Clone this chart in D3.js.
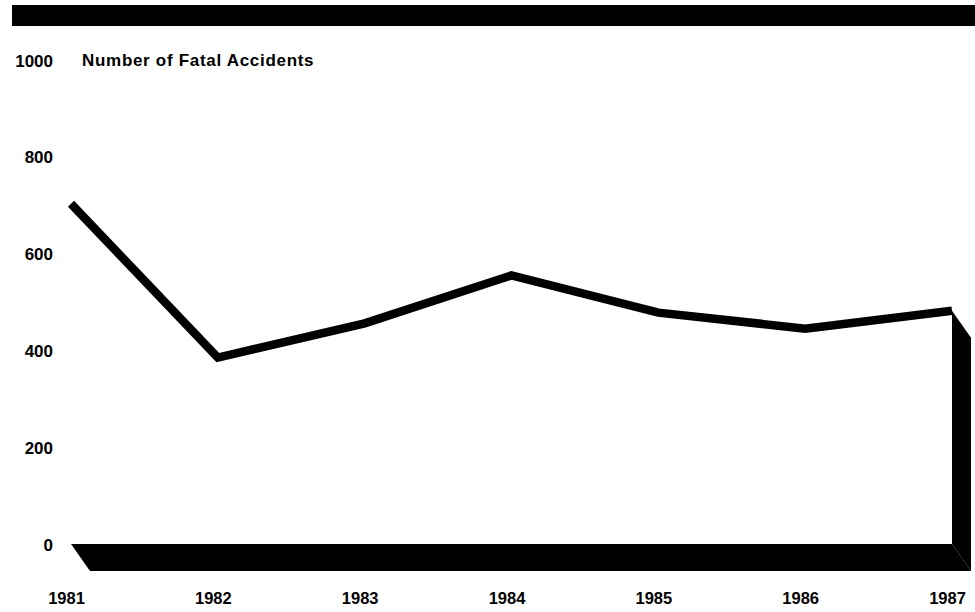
<!DOCTYPE html>
<html>
<head>
<meta charset="utf-8">
<script src="https://cdn.jsdelivr.net/npm/d3@7"></script>
<style>
  html, body { margin: 0; padding: 0; background: #fff; }
  svg { display: block; }
  text { font-family: "Liberation Sans", Arial, Helvetica, sans-serif; font-weight: bold; fill: #000; }
</style>
</head>
<body>
<svg id="chart" width="975" height="612"></svg>
<script>
// Fatal accidents per year
const years = [1981, 1982, 1983, 1984, 1985, 1986, 1987];
const accidents = [703, 385, 456, 555, 478, 445, 482];
const yTicks = [0, 200, 400, 600, 800, 1000];
const yTitle = "Number of Fatal Accidents";

const svg = d3.select("#chart");
const W = 975, H = 612;
const FONT = "'Liberation Sans', Arial, Helvetica, sans-serif";

const x = d3.scaleLinear().domain([1981, 1987]).range([71, 952]);
const y = d3.scaleLinear().domain([0, 1000]).range([544, 60]);

// depth offset of the extruded floor and side wall
const dx = 19, dy = 27;

// heavy rule across the top
svg.append("rect")
  .attr("x", 12).attr("y", 5)
  .attr("width", W - 12).attr("height", 21)
  .attr("fill", "#000");

// y axis labels (no axis line)
const yAxis = d3.axisLeft(y).tickValues(yTicks).tickSize(0).tickPadding(0)
  .tickFormat(d3.format("d"));
const gy = svg.append("g").attr("transform", "translate(53,0)").call(yAxis);
gy.select(".domain").remove();
gy.selectAll("text")
  .attr("font-size", 17)
  .attr("font-family", FONT)
  .attr("font-weight", "bold")
  .attr("fill", "#000")
  .attr("dy", "0.36em");

// axis title beside the top tick
svg.append("text")
  .attr("x", 82).attr("y", y(1000))
  .attr("dy", "0.36em")
  .attr("font-size", 17)
  .attr("letter-spacing", 0.7)
  .text(yTitle);

// x axis year labels
const xAxis = d3.axisBottom(x).tickValues(years).tickSize(0).tickPadding(0)
  .tickFormat(d3.format("d"));
const gx = svg.append("g").attr("transform", "translate(-5,592)").call(xAxis);
gx.select(".domain").remove();
gx.selectAll("text")
  .attr("font-size", 16.5)
  .attr("font-family", FONT)
  .attr("font-weight", "bold")
  .attr("fill", "#000");

// extruded floor under the zero line
const x0 = x(years[0]), x1 = x(years[years.length - 1]), yb = y(0);
const yLast = y(accidents[accidents.length - 1]);
svg.append("path")
  .attr("d", d3.line()([[x0, yb], [x1, yb], [x1 + dx, yb + dy], [x0 + dx, yb + dy]]) + "Z")
  .attr("fill", "#000");

// extruded right wall below the last point
svg.append("path")
  .attr("d", d3.line()([[x1, yLast], [x1 + dx, yLast + dy], [x1 + dx, yb + dy], [x1, yb]]) + "Z")
  .attr("fill", "#000");

// the data line
const line = d3.line()
  .x((d, i) => x(years[i]))
  .y(d => y(d));
svg.append("path")
  .datum(accidents)
  .attr("d", line)
  .attr("fill", "none")
  .attr("stroke", "#000")
  .attr("stroke-width", 8.5)
  .attr("stroke-linejoin", "miter")
  .attr("stroke-linecap", "butt");
</script>
</body>
</html>
